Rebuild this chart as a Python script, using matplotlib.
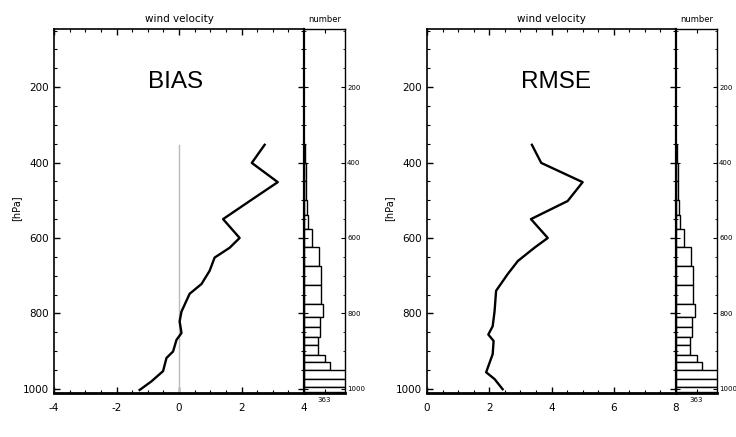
import numpy as np
import matplotlib
matplotlib.use("Agg")
import matplotlib.pyplot as plt
from matplotlib.patches import Rectangle
from matplotlib.ticker import MultipleLocator

# 1. Data

bias_p = [353, 401, 452, 500, 550, 600, 626, 652, 687, 722, 748, 795, 821, 852, 870, 901, 918, 953, 980, 1003]
bias_v = [2.74, 2.33, 3.16, 2.3, 1.41, 1.94, 1.62, 1.14, 0.98, 0.72, 0.34, 0.08, 0.02, 0.08, -0.08, -0.19, -0.40, -0.51, -0.88, -1.26]

rmse_p = [353, 401, 452, 502, 550, 600, 626, 661, 696, 740, 795, 834, 856, 873, 908, 956, 974, 1001]
rmse_v = [3.37, 3.67, 5.0, 4.52, 3.34, 3.88, 3.45, 2.92, 2.59, 2.22, 2.17, 2.11, 1.97, 2.14, 2.11, 1.90, 2.17, 2.43]

# number of observations per pressure layer
layer_edges = [350, 400, 450, 500, 540, 575, 625, 675, 725, 775, 810, 837, 863, 884, 910, 929, 950, 973, 995, 1008]
counts = [20, 30, 40, 50, 70, 140, 260, 305, 305, 330, 280, 280, 250, 250, 360, 450, 900, 900, 900]

y_ticks = [200, 400, 600, 800, 1000]
bias_xticks = [-4, -2, 0, 2, 4]
rmse_xticks = [0, 2, 4, 6, 8]
count_tick = 363

# 2. Figure layout

fig = plt.figure(figsize=(7.36, 4.37), dpi=100)
plt.rcParams["font.family"] = ["DejaVu Sans"]

W, H = 736, 437
ybot = 1 - 393 / H
yh = 364 / H

panels = [
    # main x0, main width, number x0, pressures, values, name, xlim, xticks, name x
    (54, 250, 304, bias_p, bias_v, "BIAS", (-4, 4), bias_xticks, 176),
    (427, 249, 676, rmse_p, rmse_v, "RMSE", (0, 8), rmse_xticks, 556),
]

heights = np.diff(layer_edges)

for x0, w, nx0, pres, vals, name, xlim, xticks, lx in panels:
    ax = fig.add_axes([x0 / W, ybot, w / W, yh])
    axn = fig.add_axes([nx0 / W, ybot, 41 / W, yh])

    # profile
    if name == "BIAS":
        ax.plot([0, 0], [353, 1011], color="#bbbbbb", lw=1.0)
    ax.plot(vals, pres, color="black", lw=1.7)

    ax.set_xlim(*xlim)
    ax.set_ylim(1011, 46)
    ax.set_xticks(xticks)
    ax.set_xticklabels([str(t) for t in xticks])
    ax.xaxis.set_minor_locator(MultipleLocator(0.5))
    ax.set_yticks(y_ticks)
    ax.yaxis.set_minor_locator(MultipleLocator(50))
    ax.tick_params(which="both", direction="in", top=True, right=True, labelsize=7.5)
    ax.tick_params(which="major", length=4, width=1)
    ax.tick_params(which="minor", length=2, width=0.8)
    ax.tick_params(axis="x", pad=7)
    for s in ax.spines.values():
        s.set_linewidth(1.2)
    ax.spines["bottom"].set_linewidth(2.0)
    ax.set_title("wind velocity", fontsize=7.5, pad=5)
    ax.text((lx - x0) / w, 1 - (82 - 29) / 364, name, transform=ax.transAxes,
            ha="center", va="center", fontsize=17.5, family="Liberation Sans")

    # number histogram
    axn.barh(layer_edges[:-1], counts, height=heights, align="edge",
             facecolor="white", edgecolor="black", lw=1.0)
    axn.set_xlim(0, 720)
    axn.set_ylim(1011, 46)
    axn.set_xticks([count_tick])
    axn.set_xticklabels([str(count_tick)])
    axn.set_yticks(y_ticks)
    axn.yaxis.set_minor_locator(MultipleLocator(50))
    axn.yaxis.tick_right()
    axn.tick_params(which="both", direction="in", top=True, left=True, labelsize=5)
    axn.tick_params(which="major", length=3)
    axn.tick_params(which="minor", length=1.5)
    axn.tick_params(axis="x", pad=3)
    axn.tick_params(axis="y", pad=1.5)
    for s in axn.spines.values():
        s.set_linewidth(1.0)
    axn.spines["left"].set_linewidth(1.6)
    axn.spines["bottom"].set_linewidth(2.0)
    axn.set_title("number", fontsize=6, pad=5)

    fig.text((x0 - 38) / W, 1 - 208 / H, "[hPa]", rotation=90, fontsize=7,
             ha="center", va="center")
    fig.text((x0 + w / 2) / W, 1 - 428 / H, "[m/s]", fontsize=8,
             ha="center", va="center")

# the reference is cropped just under the axis labels
fig.patches.append(Rectangle((0, 0), 1, (H - 424) / H, transform=fig.transFigure,
                             facecolor="white", edgecolor="none", zorder=10))

fig.savefig("out.png", dpi=100)
